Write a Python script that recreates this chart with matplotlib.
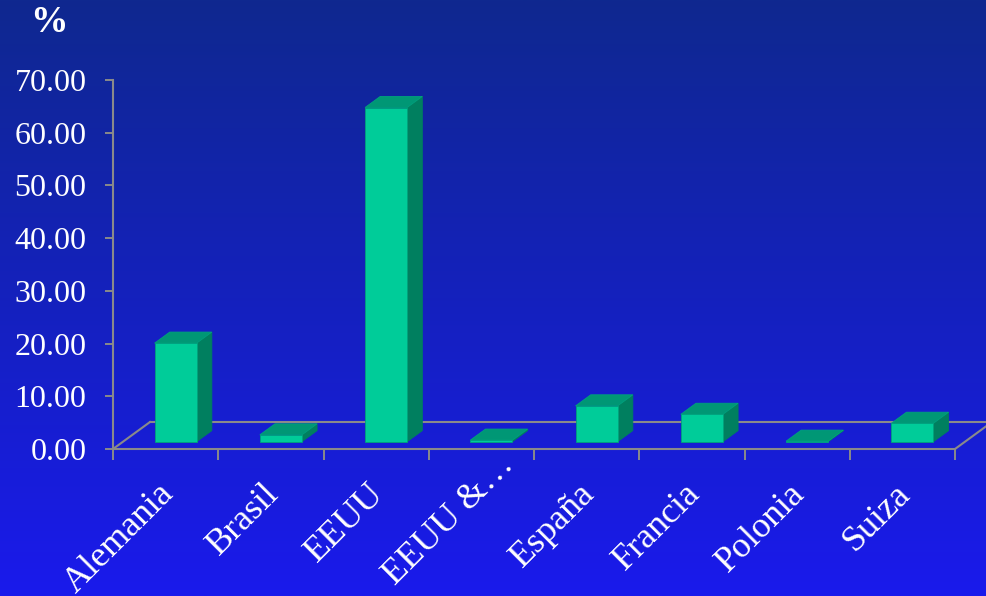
import numpy as np
import matplotlib
matplotlib.use("Agg")
import matplotlib.pyplot as plt
from matplotlib.patches import Polygon
from matplotlib.transforms import ScaledTranslation

paises = ["Alemania", "Brasil", "EEUU", "EEUU &\u2026", "Espa\u00f1a", "Francia", "Polonia", "Suiza"]
valores = [18.7, 1.3, 63.4, 0.3, 6.8, 5.2, 0.1, 3.5]
yticks = [0, 10, 20, 30, 40, 50, 60, 70]

W, H, DPI = 986, 596, 100
fig = plt.figure(figsize=(W / DPI, H / DPI), dpi=DPI)

# background gradient, dark navy on top to bright blue at the bottom
bg = fig.add_axes([0, 0, 1, 1], zorder=-10)
top = np.array([15, 40, 143]) / 255
bot = np.array([26, 26, 236]) / 255
t = np.linspace(0, 1, 256)[:, None]
grad = (top[None, :] * (1 - t) + bot[None, :] * t)[:, None, :]
bg.imshow(grad, aspect="auto", extent=[0, 1, 0, 1])
bg.axis("off")

serif = ["Liberation Serif", "DejaVu Serif"]
gris = "#8a8a8a"

# axes placed so the front floor sits at pixel row 449 and 70 at row 80
ax = fig.add_axes([113 / W, (H - 449) / H, 842 / W, 369 / H])
ax.set_facecolor("none")
n = len(paises)
ax.set_xlim(0, n)
ax.set_ylim(0, 70)

# 3d depth offsets (in data units)
px_x = 842 / n
px_y = 369 / 70
ddx = 37 / px_x
ddy = 27 / px_y
d0, d1 = 0.27, 0.68
bw = 0.4

# floor outline
ax.plot([0, ddx], [0, ddy], color=gris, lw=1.5, clip_on=False, zorder=1)
ax.plot([ddx, n + ddx], [ddy, ddy], color=gris, lw=1.5, clip_on=False, zorder=1)
ax.plot([n, n + ddx], [0, ddy], color=gris, lw=1.5, clip_on=False, zorder=1)

front_c = "#00CC99"
side_c = "#007F5F"
top_c = "#009775"
edge_c = "#00a27c"

for i, v in enumerate(valores):
    x0 = i + 0.5 - bw / 2 + d0 * ddx
    x1 = x0 + bw
    y0 = d0 * ddy
    y1 = y0 + v
    ex = (d1 - d0) * ddx
    ey = (d1 - d0) * ddy
    side = Polygon([(x1, y0), (x1, y1), (x1 + ex, y1 + ey), (x1 + ex, y0 + ey)],
                   closed=True, fc=side_c, ec=side_c, lw=0.6, zorder=3, clip_on=False)
    topf = Polygon([(x0, y1), (x1, y1), (x1 + ex, y1 + ey), (x0 + ex, y1 + ey)],
                   closed=True, fc=top_c, ec=edge_c, lw=0.6, zorder=3, clip_on=False)
    front = Polygon([(x0, y0), (x1, y0), (x1, y1), (x0, y1)],
                    closed=True, fc=front_c, ec=edge_c, lw=0.6, zorder=4, clip_on=False)
    ax.add_patch(side)
    ax.add_patch(topf)
    ax.add_patch(front)

for s in ["top", "right"]:
    ax.spines[s].set_visible(False)
for s in ["left", "bottom"]:
    ax.spines[s].set_color(gris)
    ax.spines[s].set_linewidth(1.5)

ax.set_yticks(yticks)
ax.set_yticklabels(["%.2f" % y for y in yticks], fontfamily=serif, fontsize=23, color="white")
ax.tick_params(axis="y", direction="out", length=6, width=1.4, color=gris, pad=13)

ax.set_xticks(np.arange(n + 1))
ax.set_xticklabels([])
ax.tick_params(axis="x", direction="out", length=8, width=1.4, color=gris)

for i, p in enumerate(paises):
    dx, dy = 3, -40
    if p.endswith("\u2026"):
        # the truncated label sits higher and further right
        dx, dy = 28, -11
    off = ScaledTranslation(dx / DPI, dy / DPI, fig.dpi_scale_trans)
    ax.text(i + 0.5, 0, p, transform=ax.get_xaxis_transform() + off,
            rotation=45, rotation_mode="anchor", ha="right", va="center",
            fontfamily=serif, fontsize=26, color="white", clip_on=False)

fig.text(49 / W, 1 - 23 / H, "%", ha="center", va="center",
         fontfamily=serif, fontsize=27, fontweight="bold", color="white")

fig.savefig("out.png", dpi=DPI)
